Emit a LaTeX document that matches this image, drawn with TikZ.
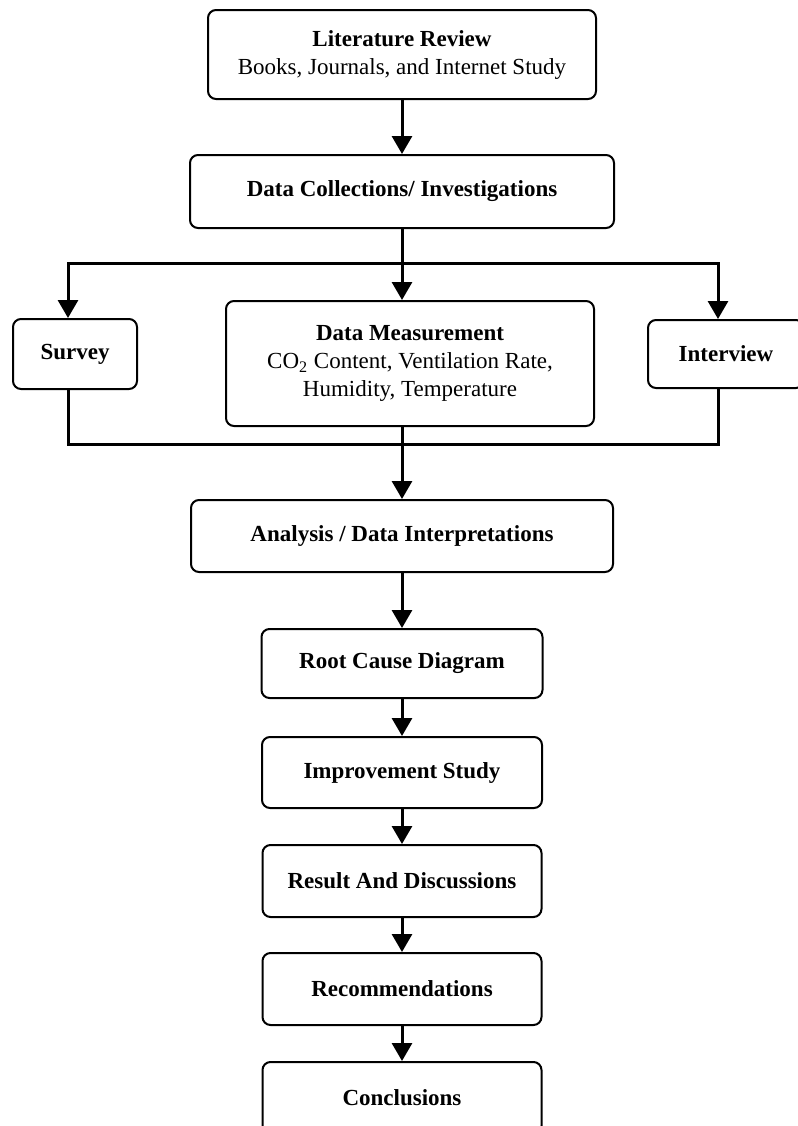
\documentclass[tikz,border=0pt]{standalone}
\usepackage{fontspec}
\setmainfont{Liberation Serif}
\usepackage{tikz}
\usetikzlibrary{arrows.meta}
\tikzset{box/.style 2 args={draw, line width=1pt, rounded corners=4pt, align=center,
			inner sep=2pt, minimum width=#1, minimum height=#2,
			font=\fontsize{11.5}{14}\selectfont},
		ln/.style={line width=1.5pt},
		arr/.style={line width=1.5pt, -{Triangle[length=9pt,width=10pt]}}}

\begin{document}
\begin{tikzpicture}[x=0.5pt, y=-0.5pt]

					\useasboundingbox (0,0) rectangle (798,1126);
					\clip (0,0) rectangle (798,1126);

					\node[box={194pt}{44.5pt}] (lit) at (402,54.5) {\textbf{Literature Review}\\Books, Journals, and Internet Study};
					\node[box={212pt}{36.5pt}] (coll) at (402,191.5) {\textbf{Data Collections/ Investigations}};

					\node[box={62pt}{35pt}] (survey) at (75,354) {\textbf{Survey}};
					\node[box={184pt}{62.5pt}] (meas) at (410,363.5) {\textbf{Data Measurement}\\CO\textsubscript{2} Content, Ventilation Rate,\\Humidity, Temperature};
					\node[box={78pt}{34pt}] (intv) at (726,354) {\textbf{Interview}};

					\node[box={211pt}{36pt}] (anal) at (402,536) {\textbf{Analysis / Data Interpretations}};
					\node[box={140.5pt}{34.5pt}] (root) at (402,663.5) {\textbf{Root Cause Diagram}};
					\node[box={140pt}{35.5pt}] (impr) at (402,772.5) {\textbf{Improvement Study}};
					\node[box={139.5pt}{36pt}] (res) at (402,881) {\textbf{Result And Discussions}};
					\node[box={139.5pt}{36pt}] (rec) at (402,989) {\textbf{Recommendations}};
					\node[box={139.5pt}{36pt}] (concl) at (402,1098) {\textbf{Conclusions}};

					\coordinate (split) at (402,263);
					\coordinate (sl) at (68,263);
					\coordinate (sr) at (718,263);
					\coordinate (join) at (402,444);
					\coordinate (jl) at (68,444);
					\coordinate (jr) at (718,444);

					\draw[arr] (lit) -- (coll);
					\draw[ln] (coll) -- (split);
					\draw[arr] (split) -- (split |- meas.north);
					\draw[arr] (split) -- (sl) -- (sl |- survey.north);
					\draw[arr] (split) -- (sr) -- (sr |- intv.north);

					\draw[ln] (jl |- survey.south) -- (jl) -- (jr) -- (jr |- intv.south);
					\draw[ln] (meas.south -| join) -- (join);
					\draw[arr] (join) -- (anal);

					\draw[arr] (anal) -- (root);
					\draw[arr] (root) -- (impr);
					\draw[arr] (impr) -- (res);
					\draw[arr] (res) -- (rec);
					\draw[arr] (rec) -- (concl);

\end{tikzpicture}
\end{document}
